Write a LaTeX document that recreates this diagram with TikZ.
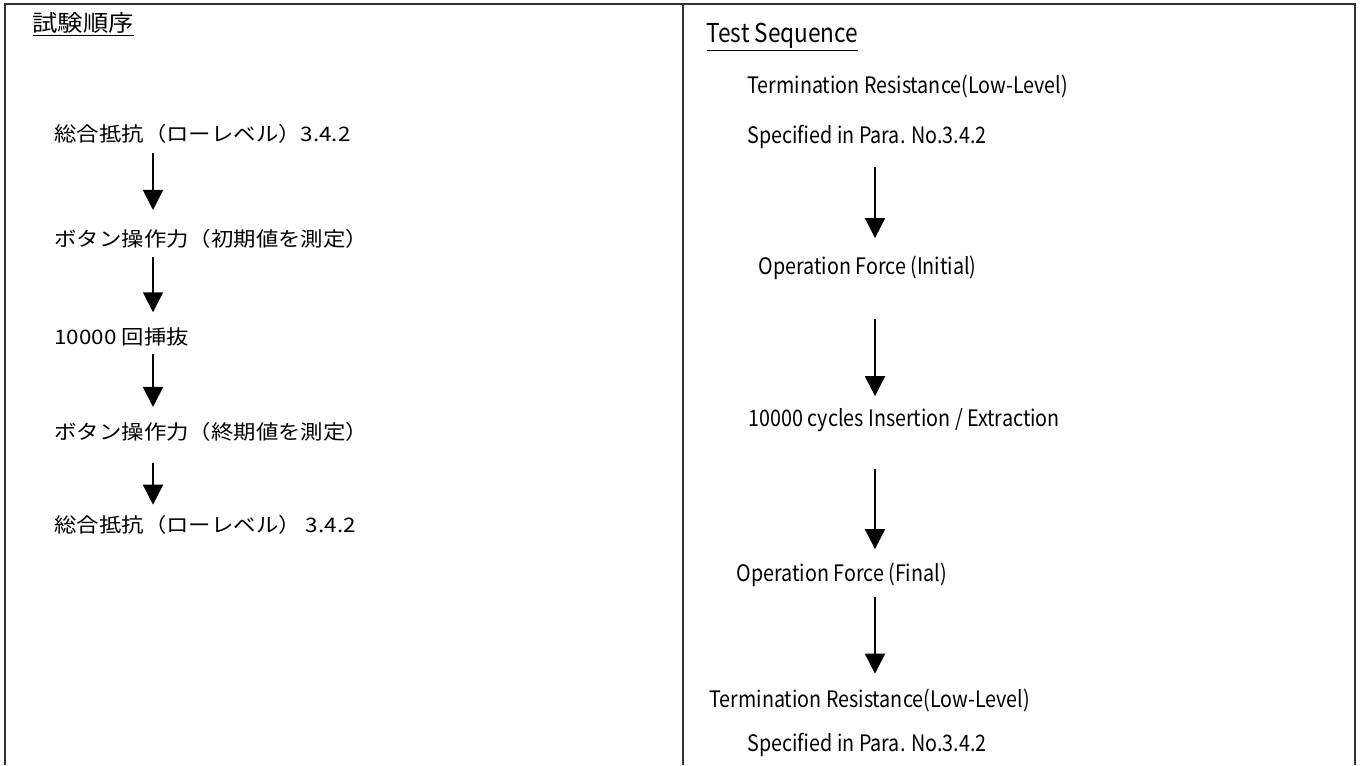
\documentclass[tikz,border=0pt]{standalone}
\usepackage{fontspec}
\setmainfont{Noto Sans CJK JP}
\newfontfamily\jpfont{Noto Sans CJK JP}[FakeStretch=1.12]
\newfontfamily\enfont{Noto Sans CJK JP}[FakeStretch=0.87]
\usetikzlibrary{arrows.meta}
\tikzset{every picture/.style={line width=0.75pt}}
\tikzset{
  jp/.style={anchor=west, inner sep=0.75pt, font=\jpfont\fontsize{15}{18}\selectfont},
  en/.style={anchor=west, inner sep=0.75pt, font=\enfont\fontsize{17}{20}\selectfont},
  frame/.style={line width=1.2pt, black!80},
  flow/.style={line width=1.4pt, -{Triangle[length=15pt,width=15pt]}}
}

\begin{document}
\begin{tikzpicture}[x=0.75pt,y=0.75pt,yscale=-1,xscale=1]
\useasboundingbox (0,0) rectangle (1360,765);
\draw [frame]  (5,765) -- (5,4) -- (1355,4) -- (1355,765) ;
\draw [frame]  (683,4) -- (683,765) ;
\coordinate (lx) at (153,0) ;
\coordinate (rx) at (875,0) ;
% left column
\draw (31,24) node (jph) [jp, font=\jpfont\fontsize{17}{20}\selectfont] {\underline{試験順序}};
\draw (53,134) node (jp1) [jp] {総合抵抗（ローレベル）3.4.2};
\draw (53,239) node (jp2) [jp] {ボタン操作力（初期値を測定）};
\draw (53,337) node (jp3) [jp] {10000 回挿抜};
\draw (53,432) node (jp4) [jp] {ボタン操作力（終期値を測定）};
\draw (53,525) node (jp5) [jp] {総合抵抗（ローレベル） 3.4.2};
\draw [flow, shorten <=6pt, shorten >=13.5pt] (jp1.south -| lx) -- (jp2.north -| lx) ;
\draw [flow, shorten <=5pt, shorten >=10.5pt] (jp2.south -| lx) -- (jp3.north -| lx) ;
\draw [flow, shorten <=5pt, shorten >=10.5pt] (jp3.south -| lx) -- (jp4.north -| lx) ;
\draw [flow, shorten <=15pt, shorten >=7pt] (jp4.south -| lx) -- (jp5.north -| lx) ;
% right column
\draw (705,37) node (enh) [en, font=\enfont\fontsize{19.5}{22}\selectfont] {\underline{Test Sequence}};
\draw (746,86) node (en1) [en] {Termination Resistance(Low-Level)};
\draw (746,137) node (en2) [en] {Specified in Para. No.3.4.2};
\draw (757,268) node (en3) [en] {Operation Force (Initial)};
\draw (747,420) node (en4) [en] {10000 cycles Insertion / Extraction};
\draw (735,575) node (en5) [en] {Operation Force (Final)};
\draw (708,700) node (en6) [en] {Termination Resistance(Low-Level)};
\draw (746,745) node (en7) [en] {Specified in Para. No.3.4.2};
\draw [flow, shorten <=12.4pt, shorten >=12.4pt] (en2.south -| rx) -- (en3.north -| rx) ;
\draw [flow, shorten <=28pt, shorten >=8pt] (en3.south -| rx) -- (en4.north -| rx) ;
\draw [flow, shorten <=26.6pt, shorten >=9.4pt] (en4.south -| rx) -- (en5.north -| rx) ;
\draw [flow, shorten <=6.4pt, shorten >=10pt] (en5.south -| rx) -- (en6.north -| rx) ;
\end{tikzpicture}
\end{document}
